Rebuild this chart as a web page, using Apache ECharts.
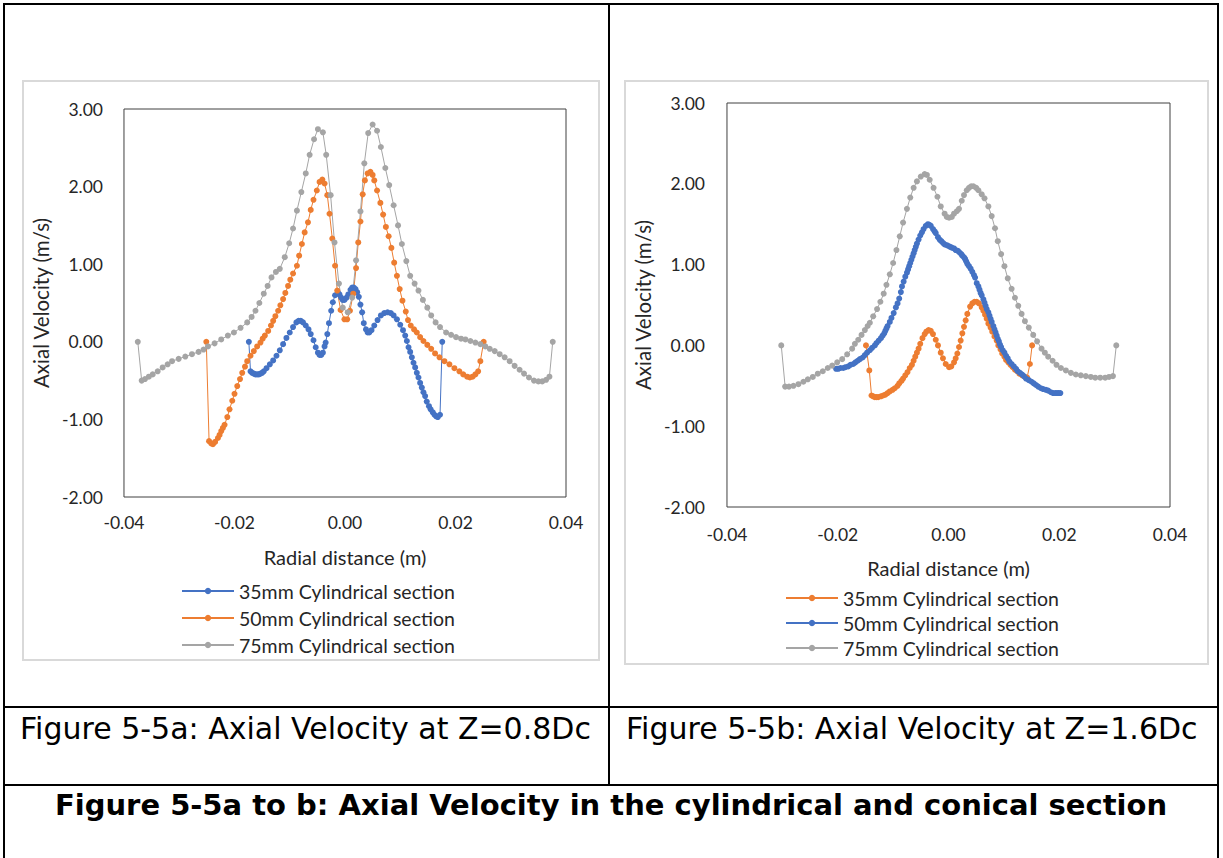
<!DOCTYPE html>
<html>
<head>
<meta charset="utf-8">
<script src="https://cdn.jsdelivr.net/npm/echarts@6/dist/echarts.min.js"></script>
<style>
  html, body { margin:0; padding:0; background:#fff; }
  body { width:1223px; height:858px; position:relative; overflow:hidden; }
  .ln { position:absolute; background:#000; }
  .frame { position:absolute; border:2px solid #d9d9d9; box-sizing:border-box; pointer-events:none; }
  .chart { position:absolute; }
  .cap { position:absolute; font-family:"DejaVu Sans", Verdana, sans-serif; font-size:30px; color:#000; white-space:nowrap; line-height:36px; }
  .title { position:absolute; left:3px; width:1216px; text-align:center; font-family:"DejaVu Sans", Verdana, sans-serif; font-weight:bold; font-size:29px; color:#000; white-space:nowrap; line-height:36px; }
</style>
</head>
<body>
<div class="ln" style="left:3px;top:3px;width:1216px;height:2px"></div>
<div class="ln" style="left:3px;top:3px;width:2px;height:855px"></div>
<div class="ln" style="left:1217px;top:3px;width:2px;height:855px"></div>
<div class="ln" style="left:608px;top:3px;width:2px;height:783px"></div>
<div class="ln" style="left:3px;top:706px;width:1216px;height:2px"></div>
<div class="ln" style="left:3px;top:784px;width:1216px;height:2px"></div>

<div id="chartA" class="chart" style="left:22px;top:80px;width:578px;height:581px"></div>
<div class="frame" style="left:22px;top:80px;width:578px;height:581px"></div>
<div id="chartB" class="chart" style="left:624px;top:80px;width:585px;height:585px"></div>
<div class="frame" style="left:624px;top:80px;width:585px;height:585px"></div>

<div class="cap" style="left:20px;top:711px">Figure 5-5a: Axial Velocity at Z=0.8Dc</div>
<div class="cap" style="left:626px;top:711px">Figure 5-5b: Axial Velocity at Z=1.6Dc</div>
<div class="title" style="top:787px">Figure 5-5a to b: Axial Velocity in the cylindrical and conical section</div>

<script>
// ---------- DATA ----------
const xTicks = [-0.04, -0.02, 0.00, 0.02, 0.04];
const yTicks = [-2.00, -1.00, 0.00, 1.00, 2.00, 3.00];
const xAxisTitle = 'Radial distance (m)';
const yAxisTitle = 'Axial Velocity (m/s)';
const seriesNamesA = ['35mm Cylindrical section', '50mm Cylindrical section', '75mm Cylindrical section'];
const seriesNamesB = ['35mm Cylindrical section', '50mm Cylindrical section', '75mm Cylindrical section'];

// Figure 5-5a (Z = 0.8Dc): [radial distance (m), axial velocity (m/s)]
const a35 = [[-0.0174,0.00],[-0.0171,-0.38],[-0.0168,-0.40],[-0.0165,-0.41],[-0.0162,-0.42],[-0.0159,-0.42],[-0.0156,-0.42],[-0.0153,-0.41],[-0.0150,-0.40],[-0.0147,-0.38],[-0.0142,-0.34],[-0.0136,-0.29],[-0.0130,-0.24],[-0.0124,-0.18],[-0.0118,-0.11],[-0.0112,-0.03],[-0.0106,0.05],[-0.0100,0.12],[-0.0094,0.19],[-0.0088,0.25],[-0.0084,0.27],[-0.0080,0.27],[-0.0076,0.25],[-0.0071,0.21],[-0.0066,0.16],[-0.0062,0.10],[-0.0057,0.02],[-0.0053,-0.07],[-0.0049,-0.14],[-0.0046,-0.17],[-0.0043,-0.17],[-0.0040,-0.14],[-0.0037,-0.06],[-0.0035,-0.01],[-0.0032,0.10],[-0.0029,0.24],[-0.0025,0.40],[-0.0022,0.51],[-0.0018,0.60],[-0.0013,0.63],[-0.0010,0.61],[-0.0007,0.57],[-0.0004,0.54],[-0.0001,0.54],[0.0003,0.57],[0.0006,0.61],[0.0010,0.67],[0.0013,0.70],[0.0016,0.70],[0.0019,0.68],[0.0022,0.64],[0.0025,0.58],[0.0028,0.48],[0.0031,0.38],[0.0034,0.24],[0.0038,0.16],[0.0041,0.12],[0.0044,0.12],[0.0048,0.15],[0.0053,0.21],[0.0059,0.28],[0.0065,0.34],[0.0071,0.37],[0.0077,0.38],[0.0083,0.37],[0.0088,0.34],[0.0094,0.29],[0.0100,0.22],[0.0105,0.15],[0.0109,0.08],[0.0112,0.01],[0.0115,-0.07],[0.0118,-0.13],[0.0121,-0.20],[0.0124,-0.27],[0.0127,-0.33],[0.0130,-0.40],[0.0133,-0.46],[0.0136,-0.53],[0.0139,-0.59],[0.0142,-0.65],[0.0145,-0.70],[0.0148,-0.77],[0.0152,-0.83],[0.0155,-0.87],[0.0159,-0.91],[0.0162,-0.94],[0.0165,-0.96],[0.0168,-0.97],[0.0172,-0.94],[0.0176,0.00]];
const a50 = [[-0.0251,0.00],[-0.0246,-1.28],[-0.0242,-1.31],[-0.0239,-1.32],[-0.0235,-1.29],[-0.0230,-1.24],[-0.0227,-1.20],[-0.0224,-1.15],[-0.0221,-1.11],[-0.0218,-1.07],[-0.0213,-0.97],[-0.0209,-0.87],[-0.0204,-0.76],[-0.0200,-0.67],[-0.0195,-0.57],[-0.0190,-0.48],[-0.0186,-0.40],[-0.0181,-0.32],[-0.0177,-0.25],[-0.0171,-0.18],[-0.0165,-0.12],[-0.0159,-0.06],[-0.0153,-0.01],[-0.0149,0.04],[-0.0145,0.08],[-0.0139,0.14],[-0.0134,0.21],[-0.0130,0.27],[-0.0126,0.33],[-0.0121,0.40],[-0.0117,0.47],[-0.0112,0.55],[-0.0108,0.63],[-0.0103,0.72],[-0.0099,0.80],[-0.0094,0.88],[-0.0087,0.98],[-0.0083,1.11],[-0.0078,1.26],[-0.0073,1.41],[-0.0067,1.54],[-0.0062,1.70],[-0.0057,1.83],[-0.0051,1.95],[-0.0046,2.06],[-0.0041,2.09],[-0.0037,2.04],[-0.0032,1.89],[-0.0028,1.65],[-0.0023,1.33],[-0.0018,0.98],[-0.0014,0.66],[-0.0008,0.41],[-0.0001,0.29],[0.0004,0.29],[0.0009,0.40],[0.0015,0.62],[0.0020,0.95],[0.0024,1.28],[0.0028,1.55],[0.0032,1.90],[0.0036,2.08],[0.0041,2.17],[0.0046,2.19],[0.0050,2.15],[0.0053,2.08],[0.0058,1.95],[0.0064,1.79],[0.0069,1.64],[0.0074,1.48],[0.0079,1.36],[0.0084,1.21],[0.0089,1.02],[0.0094,0.85],[0.0099,0.68],[0.0104,0.53],[0.0110,0.39],[0.0114,0.28],[0.0119,0.21],[0.0125,0.16],[0.0130,0.12],[0.0136,0.06],[0.0142,0.01],[0.0149,-0.04],[0.0156,-0.09],[0.0163,-0.15],[0.0171,-0.20],[0.0180,-0.25],[0.0189,-0.29],[0.0198,-0.34],[0.0207,-0.38],[0.0214,-0.42],[0.0221,-0.45],[0.0226,-0.46],[0.0231,-0.45],[0.0236,-0.42],[0.0241,-0.38],[0.0245,-0.25],[0.0251,0.00]];
const a75 = [[-0.0375,0.00],[-0.0368,-0.50],[-0.0362,-0.48],[-0.0355,-0.45],[-0.0348,-0.42],[-0.0339,-0.38],[-0.0330,-0.33],[-0.0321,-0.29],[-0.0313,-0.25],[-0.0301,-0.22],[-0.0289,-0.19],[-0.0277,-0.16],[-0.0265,-0.13],[-0.0256,-0.10],[-0.0248,-0.06],[-0.0236,-0.02],[-0.0224,0.03],[-0.0212,0.08],[-0.0201,0.12],[-0.0189,0.18],[-0.0177,0.25],[-0.0169,0.32],[-0.0162,0.40],[-0.0155,0.50],[-0.0147,0.62],[-0.0140,0.72],[-0.0133,0.83],[-0.0125,0.90],[-0.0118,0.94],[-0.0109,1.09],[-0.0101,1.27],[-0.0094,1.46],[-0.0087,1.69],[-0.0079,1.93],[-0.0071,2.17],[-0.0064,2.41],[-0.0056,2.61],[-0.0049,2.74],[-0.0040,2.70],[-0.0034,2.41],[-0.0026,1.89],[-0.0019,1.28],[-0.0011,0.75],[-0.0004,0.44],[0.0005,0.38],[0.0013,0.57],[0.0020,1.05],[0.0028,1.68],[0.0035,2.30],[0.0042,2.69],[0.0050,2.80],[0.0058,2.72],[0.0065,2.51],[0.0073,2.24],[0.0080,2.02],[0.0088,1.76],[0.0096,1.50],[0.0103,1.26],[0.0111,1.04],[0.0118,0.85],[0.0126,0.75],[0.0133,0.66],[0.0141,0.54],[0.0149,0.44],[0.0156,0.34],[0.0164,0.25],[0.0172,0.19],[0.0183,0.12],[0.0192,0.09],[0.0201,0.06],[0.0210,0.04],[0.0218,0.03],[0.0227,0.01],[0.0236,-0.01],[0.0245,-0.03],[0.0254,-0.06],[0.0262,-0.09],[0.0271,-0.12],[0.0280,-0.16],[0.0289,-0.20],[0.0298,-0.25],[0.0307,-0.31],[0.0316,-0.36],[0.0324,-0.41],[0.0333,-0.46],[0.0342,-0.50],[0.0350,-0.51],[0.0357,-0.51],[0.0364,-0.49],[0.0370,-0.45],[0.0376,0.00]];

// Figure 5-5b (Z = 1.6Dc)
const b35 = [[-0.0149,0.00],[-0.0143,-0.31],[-0.0139,-0.62],[-0.0136,-0.63],[-0.0133,-0.64],[-0.0130,-0.64],[-0.0127,-0.64],[-0.0122,-0.63],[-0.0118,-0.62],[-0.0114,-0.61],[-0.0110,-0.59],[-0.0106,-0.57],[-0.0101,-0.55],[-0.0097,-0.53],[-0.0092,-0.50],[-0.0089,-0.47],[-0.0085,-0.44],[-0.0082,-0.41],[-0.0078,-0.37],[-0.0074,-0.33],[-0.0070,-0.28],[-0.0066,-0.24],[-0.0063,-0.19],[-0.0060,-0.14],[-0.0057,-0.09],[-0.0054,-0.04],[-0.0051,0.02],[-0.0047,0.09],[-0.0043,0.14],[-0.0040,0.17],[-0.0036,0.19],[-0.0032,0.18],[-0.0028,0.14],[-0.0023,0.07],[-0.0019,0.00],[-0.0014,-0.09],[-0.0010,-0.16],[-0.0005,-0.23],[0.0001,-0.27],[0.0005,-0.26],[0.0010,-0.21],[0.0013,-0.16],[0.0016,-0.10],[0.0019,-0.02],[0.0022,0.06],[0.0025,0.15],[0.0028,0.23],[0.0031,0.31],[0.0034,0.39],[0.0039,0.48],[0.0043,0.52],[0.0047,0.54],[0.0051,0.54],[0.0055,0.52],[0.0060,0.47],[0.0063,0.43],[0.0066,0.38],[0.0069,0.33],[0.0072,0.27],[0.0076,0.22],[0.0079,0.17],[0.0083,0.11],[0.0087,0.06],[0.0090,0.00],[0.0094,-0.05],[0.0097,-0.10],[0.0101,-0.14],[0.0104,-0.18],[0.0108,-0.21],[0.0112,-0.24],[0.0116,-0.27],[0.0120,-0.30],[0.0124,-0.32],[0.0128,-0.35],[0.0133,-0.37],[0.0138,-0.39],[0.0142,-0.40],[0.0147,-0.23],[0.0151,0.00]];
const b50 = [[-0.0203,-0.29],[-0.0199,-0.29],[-0.0195,-0.28],[-0.0190,-0.28],[-0.0186,-0.27],[-0.0181,-0.26],[-0.0177,-0.24],[-0.0172,-0.23],[-0.0168,-0.21],[-0.0164,-0.19],[-0.0160,-0.17],[-0.0155,-0.15],[-0.0151,-0.12],[-0.0147,-0.09],[-0.0142,-0.06],[-0.0138,-0.03],[-0.0133,0.00],[-0.0130,0.03],[-0.0126,0.06],[-0.0122,0.09],[-0.0119,0.12],[-0.0116,0.15],[-0.0114,0.18],[-0.0112,0.21],[-0.0110,0.24],[-0.0106,0.29],[-0.0103,0.34],[-0.0099,0.40],[-0.0095,0.47],[-0.0092,0.52],[-0.0089,0.58],[-0.0086,0.66],[-0.0084,0.73],[-0.0081,0.79],[-0.0078,0.85],[-0.0075,0.90],[-0.0073,0.94],[-0.0071,0.98],[-0.0069,1.02],[-0.0067,1.06],[-0.0065,1.10],[-0.0063,1.14],[-0.0061,1.18],[-0.0059,1.22],[-0.0057,1.26],[-0.0054,1.31],[-0.0051,1.36],[-0.0048,1.40],[-0.0045,1.44],[-0.0041,1.48],[-0.0037,1.50],[-0.0034,1.49],[-0.0032,1.48],[-0.0028,1.44],[-0.0025,1.41],[-0.0023,1.39],[-0.0019,1.34],[-0.0016,1.31],[-0.0013,1.29],[-0.0010,1.27],[-0.0007,1.25],[-0.0003,1.24],[0.0000,1.23],[0.0003,1.22],[0.0006,1.21],[0.0010,1.20],[0.0013,1.18],[0.0017,1.17],[0.0020,1.15],[0.0023,1.13],[0.0025,1.11],[0.0028,1.09],[0.0030,1.07],[0.0032,1.04],[0.0034,1.01],[0.0037,0.98],[0.0040,0.95],[0.0043,0.91],[0.0046,0.87],[0.0048,0.84],[0.0051,0.77],[0.0054,0.73],[0.0056,0.69],[0.0058,0.65],[0.0060,0.62],[0.0063,0.57],[0.0065,0.53],[0.0067,0.49],[0.0069,0.45],[0.0072,0.41],[0.0074,0.37],[0.0076,0.33],[0.0078,0.29],[0.0081,0.24],[0.0083,0.20],[0.0085,0.16],[0.0087,0.12],[0.0089,0.08],[0.0091,0.05],[0.0093,0.01],[0.0095,-0.02],[0.0098,-0.06],[0.0101,-0.09],[0.0104,-0.13],[0.0107,-0.16],[0.0110,-0.20],[0.0114,-0.23],[0.0118,-0.26],[0.0122,-0.29],[0.0125,-0.32],[0.0129,-0.34],[0.0133,-0.36],[0.0136,-0.38],[0.0140,-0.41],[0.0145,-0.43],[0.0150,-0.45],[0.0154,-0.47],[0.0158,-0.49],[0.0162,-0.51],[0.0167,-0.53],[0.0171,-0.54],[0.0176,-0.55],[0.0180,-0.56],[0.0185,-0.58],[0.0189,-0.59],[0.0193,-0.59],[0.0196,-0.59],[0.0199,-0.59],[0.0202,-0.59]];
const b75 = [[-0.0302,0.00],[-0.0295,-0.51],[-0.0288,-0.51],[-0.0280,-0.50],[-0.0271,-0.48],[-0.0262,-0.45],[-0.0254,-0.42],[-0.0245,-0.39],[-0.0236,-0.35],[-0.0227,-0.32],[-0.0218,-0.28],[-0.0210,-0.25],[-0.0201,-0.21],[-0.0192,-0.17],[-0.0183,-0.11],[-0.0174,-0.04],[-0.0169,0.02],[-0.0163,0.07],[-0.0157,0.13],[-0.0151,0.19],[-0.0146,0.24],[-0.0142,0.28],[-0.0136,0.36],[-0.0129,0.45],[-0.0123,0.54],[-0.0117,0.64],[-0.0112,0.75],[-0.0106,0.88],[-0.0100,1.02],[-0.0094,1.18],[-0.0088,1.35],[-0.0082,1.52],[-0.0075,1.69],[-0.0069,1.83],[-0.0063,1.95],[-0.0057,2.03],[-0.0050,2.09],[-0.0043,2.12],[-0.0039,2.11],[-0.0034,2.05],[-0.0027,1.95],[-0.0020,1.84],[-0.0014,1.72],[-0.0007,1.63],[-0.0003,1.59],[0.0001,1.58],[0.0006,1.59],[0.0010,1.63],[0.0015,1.66],[0.0019,1.69],[0.0024,1.79],[0.0028,1.86],[0.0033,1.92],[0.0037,1.95],[0.0041,1.97],[0.0045,1.97],[0.0050,1.95],[0.0054,1.92],[0.0060,1.87],[0.0065,1.82],[0.0072,1.72],[0.0078,1.60],[0.0084,1.45],[0.0089,1.29],[0.0095,1.13],[0.0101,0.98],[0.0107,0.83],[0.0114,0.70],[0.0120,0.59],[0.0126,0.49],[0.0132,0.39],[0.0138,0.30],[0.0145,0.22],[0.0153,0.13],[0.0160,0.05],[0.0168,-0.04],[0.0174,-0.09],[0.0180,-0.14],[0.0188,-0.19],[0.0195,-0.24],[0.0203,-0.28],[0.0212,-0.31],[0.0221,-0.34],[0.0230,-0.36],[0.0239,-0.37],[0.0248,-0.38],[0.0257,-0.39],[0.0265,-0.40],[0.0274,-0.40],[0.0283,-0.40],[0.0290,-0.39],[0.0297,-0.38],[0.0303,0.00]];

const BLUE = '#4472C4', ORANGE = '#ED7D31', GRAY = '#A5A5A5';
const FONT = 'Lato';
const TXT = '#262626';

function fmt(v){ if (Math.abs(v) < 1e-9) v = 0; return v.toFixed(2); }

function build(el, cfg) {
  const chart = echarts.init(el, null, {renderer: 'svg'});
  chart.setOption({
    animation: false,
    grid: Object.assign({show: true, borderColor: '#404040', borderWidth: 1, backgroundColor: 'transparent', containLabel: false}, cfg.grid),
    xAxis: {
      type: 'value', min: xTicks[0], max: xTicks[xTicks.length - 1], interval: xTicks[1] - xTicks[0],
      axisLine: {show: false}, axisTick: {show: false}, splitLine: {show: false},
      axisLabel: {formatter: fmt, fontFamily: FONT, fontSize: 17.5, color: TXT, margin: cfg.xLabelMargin},
      name: xAxisTitle, nameLocation: 'middle', nameGap: cfg.xNameGap,
      nameTextStyle: {fontFamily: FONT, fontSize: 20, color: TXT}
    },
    yAxis: {
      type: 'value', min: yTicks[0], max: yTicks[yTicks.length - 1], interval: yTicks[1] - yTicks[0],
      axisLine: {show: false}, axisTick: {show: false}, splitLine: {show: false},
      axisLabel: {formatter: fmt, fontFamily: FONT, fontSize: 17.5, color: TXT, margin: cfg.yLabelMargin},
      name: yAxisTitle, nameLocation: 'middle', nameGap: cfg.yNameGap,
      nameTextStyle: {fontFamily: FONT, fontSize: 20.5, color: TXT}
    },
    legend: {
      orient: 'vertical', left: cfg.legend.left, top: cfg.legend.top, padding: 0,
      itemWidth: 52, itemHeight: 8, itemGap: cfg.legend.gap,
      textStyle: {fontFamily: FONT, fontSize: 19.5, color: TXT, lineHeight: 20},
      data: cfg.series.map(s => s.name)
    },
    series: cfg.series.map(s => ({
      type: 'line', name: s.name, data: s.data, color: s.color,
      symbol: 'circle', symbolSize: 6, showSymbol: true,
      lineStyle: {width: 1, color: s.color}, itemStyle: {color: s.color},
      emphasis: {disabled: true}
    }))
  });
}

build(document.getElementById('chartA'), {
  grid: {left: 92, top: 29, width: 452, height: 388},
  xLabelMargin: 16, yLabelMargin: 21, xNameGap: 50, yNameGap: 62,
  legend: {left: 159, top: 501, gap: 7},
  series: [
    {name: seriesNamesA[0], data: a35, color: BLUE},
    {name: seriesNamesA[1], data: a50, color: ORANGE},
    {name: seriesNamesA[2], data: a75, color: GRAY}
  ]
});
build(document.getElementById('chartB'), {
  grid: {left: 91, top: 23, width: 455, height: 404},
  xLabelMargin: 18, yLabelMargin: 22, xNameGap: 51, yNameGap: 62,
  legend: {left: 161, top: 508, gap: 5},
  series: [
    {name: seriesNamesB[0], data: b35, color: ORANGE},
    {name: seriesNamesB[1], data: b50, color: BLUE},
    {name: seriesNamesB[2], data: b75, color: GRAY}
  ]
});
</script>
</body>
</html>
